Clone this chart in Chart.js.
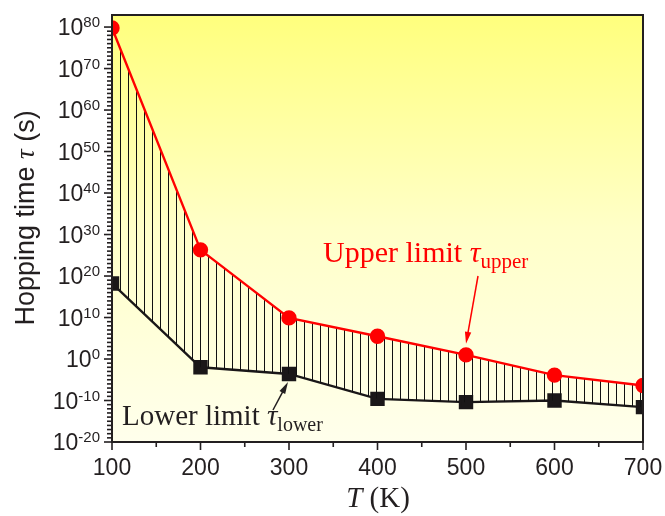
<!DOCTYPE html>
<html>
<head>
<meta charset="utf-8">
<script src="https://cdn.jsdelivr.net/npm/chart.js@4.4.1/dist/chart.umd.min.js"></script>
<style>
  body { margin: 0; background: #ffffff; }
  #wrap { width: 665px; height: 516px; }
</style>
</head>
<body>
<div id="wrap"><canvas id="hopChart" width="665" height="516"></canvas></div>
<script>
// data
const temps = [100, 200, 300, 400, 500, 600, 700];
const upperTau = [6e79, 2e26, 8e9, 3e5, 10, 1.3e-4, 4e-7];
const lowerTau = [1.6e18, 1e-2, 2.5e-4, 2.5e-10, 4e-11, 1e-10, 2.5e-12];

// axis ticks
const xTicks = [100, 200, 300, 400, 500, 600, 700];
const yTickExps = [-20, -10, 0, 10, 20, 30, 40, 50, 60, 70, 80];

const axisColor = '#231f20';
const sans = '"Liberation Sans", Arial, sans-serif';
const serif = '"Liberation Serif", "Times New Roman", serif';

// vertical hatch pattern for the band between the limits
function makeHatch() {
    const c = document.createElement('canvas');
    c.width = 8;
    c.height = 8;
    const g = c.getContext('2d');
    g.fillStyle = '#111111';
    g.fillRect(0, 0, 1, 8);
    return g.createPattern(c, 'repeat');
}

// draw a row of text pieces (for sub/superscripts)
function drawRuns(ctx, x, y, runs) {
    runs.forEach(r => {
        ctx.font = r.font;
        ctx.fillStyle = r.color;
        ctx.fillText(r.text, x, y + (r.dy || 0));
        x += ctx.measureText(r.text).width;
    });
}
function runsWidth(ctx, runs) {
    let w = 0;
    runs.forEach(r => { ctx.font = r.font; w += ctx.measureText(r.text).width; });
    return w;
}

function arrow(ctx, x1, y1, x2, y2, color) {
    const ang = Math.atan2(y2 - y1, x2 - x1);
    const len = 12, half = 3.2;
    ctx.strokeStyle = color;
    ctx.fillStyle = color;
    ctx.lineWidth = 1.5;
    ctx.beginPath();
    ctx.moveTo(x1, y1);
    ctx.lineTo(x2 - Math.cos(ang) * len * 0.8, y2 - Math.sin(ang) * len * 0.8);
    ctx.stroke();
    ctx.beginPath();
    ctx.moveTo(x2, y2);
    ctx.lineTo(x2 - Math.cos(ang) * len - Math.sin(ang) * half, y2 - Math.sin(ang) * len + Math.cos(ang) * half);
    ctx.lineTo(x2 - Math.cos(ang) * len + Math.sin(ang) * half, y2 - Math.sin(ang) * len - Math.cos(ang) * half);
    ctx.closePath();
    ctx.fill();
}

// yellow gradient behind the plot
const backgroundPlugin = {
    id: 'plotBackground',
    beforeDraw(chart) {
        const { ctx, chartArea: a } = chart;
        const grad = ctx.createLinearGradient(0, a.top, 0, a.bottom);
        grad.addColorStop(0, 'rgb(255,255,125)');
        grad.addColorStop(0.5, 'rgb(255,255,200)');
        grad.addColorStop(1, 'rgb(255,255,236)');
        ctx.save();
        ctx.fillStyle = grad;
        ctx.fillRect(a.left, a.top, a.right - a.left, a.bottom - a.top);
        ctx.restore();
    }
};

// frame, ticks, labels and annotations
const axesPlugin = {
    id: 'axesDecor',
    afterDraw(chart) {
        const { ctx, chartArea: a } = chart;
        const xs = chart.scales.x, ys = chart.scales.y;
        ctx.save();

        ctx.strokeStyle = axisColor;
        ctx.lineWidth = 2;
        ctx.strokeRect(a.left, a.top, a.right - a.left, a.bottom - a.top);

        // x ticks
        ctx.lineWidth = 1.6;
        for (let v = 100; v <= 700; v += 50) {
            const px = xs.getPixelForValue(v);
            ctx.beginPath();
            ctx.moveTo(px, a.bottom);
            ctx.lineTo(px, a.bottom + (v % 100 === 0 ? 8 : 5));
            ctx.stroke();
        }
        ctx.fillStyle = axisColor;
        ctx.font = '23px ' + sans;
        ctx.textAlign = 'center';
        ctx.textBaseline = 'alphabetic';
        xTicks.forEach(v => ctx.fillText(String(v), xs.getPixelForValue(v), 475));

        // y ticks, one per decade
        for (let e = -20; e <= 80; e++) {
            const py = ys.getPixelForValue(Math.pow(10, e));
            ctx.beginPath();
            ctx.moveTo(a.left, py);
            ctx.lineTo(a.left - (e % 10 === 0 ? 8 : 5), py);
            ctx.stroke();
        }
        ctx.textAlign = 'left';
        yTickExps.forEach(e => {
            const py = ys.getPixelForValue(Math.pow(10, e));
            const runs = [
                { text: '10', font: '23px ' + sans, color: axisColor },
                { text: String(e), font: '15px ' + sans, color: axisColor, dy: -8 }
            ];
            drawRuns(ctx, 100 - runsWidth(ctx, runs), py + 8, runs);
        });

        // axis titles
        const yTitle = [
            { text: 'Hopping time ', font: '27px ' + sans, color: axisColor },
            { text: 'τ', font: 'italic 27px ' + serif, color: axisColor },
            { text: ' (s)', font: '27px ' + sans, color: axisColor }
        ];
        ctx.save();
        ctx.translate(34, 218);
        ctx.rotate(-Math.PI / 2);
        drawRuns(ctx, -runsWidth(ctx, yTitle) / 2, 0, yTitle);
        ctx.restore();

        const xTitle = [
            { text: 'T', font: 'italic 29px ' + serif, color: axisColor },
            { text: ' (K)', font: '29px ' + serif, color: axisColor }
        ];
        drawRuns(ctx, 378 - runsWidth(ctx, xTitle) / 2, 507, xTitle);

        // annotations
        drawRuns(ctx, 323, 262, [
            { text: 'Upper limit ', font: '30px ' + serif, color: '#ff0000' },
            { text: 'τ', font: 'italic 30px ' + serif, color: '#ff0000' },
            { text: 'upper', font: '21px ' + serif, color: '#ff0000', dy: 6 }
        ]);
        drawRuns(ctx, 122, 425, [
            { text: 'Lower limit ', font: '29px ' + serif, color: axisColor },
            { text: 'τ', font: 'italic 29px ' + serif, color: axisColor },
            { text: 'lower', font: '20px ' + serif, color: axisColor, dy: 6 }
        ]);

        const ux = xs.getPixelForValue(temps[4]), uy = ys.getPixelForValue(upperTau[4]);
        arrow(ctx, ux + 12, 276, ux, uy - 11, '#ff0000');
        const lx = xs.getPixelForValue(temps[2]), ly = ys.getPixelForValue(lowerTau[2]);
        arrow(ctx, lx - 16, 410, lx - 1, ly + 8, axisColor);

        ctx.restore();
    }
};

const ctx = document.getElementById('hopChart').getContext('2d');
const hopChart = new Chart(ctx, {
    type: 'line',
    data: {
        labels: temps,
        datasets: [
            {
                label: 'Upper limit',
                data: upperTau,
                borderColor: '#ff0000',
                borderWidth: 2.4,
                backgroundColor: makeHatch(),
                pointBackgroundColor: '#ff0000',
                pointBorderColor: '#ff0000',
                pointStyle: 'circle',
                pointRadius: 6.5,
                fill: '+1',
                tension: 0,
                clip: 0
            },
            {
                label: 'Lower limit',
                data: lowerTau,
                borderColor: '#1a1718',
                borderWidth: 2.4,
                pointBackgroundColor: '#1a1718',
                pointBorderColor: '#1a1718',
                pointStyle: 'rect',
                pointRadius: 8.5,
                fill: false,
                tension: 0,
                clip: 0
            }
        ]
    },
    options: {
        responsive: false,
        animation: false,
        layout: { padding: { left: 112, top: 15, right: 22, bottom: 74 } },
        plugins: {
            legend: { display: false },
            tooltip: { enabled: false }
        },
        scales: {
            x: { type: 'linear', min: 100, max: 700, display: false },
            y: { type: 'logarithmic', min: 1e-20, max: 8e82, display: false }
        }
    },
    plugins: [backgroundPlugin, axesPlugin]
});
</script>
</body>
</html>
